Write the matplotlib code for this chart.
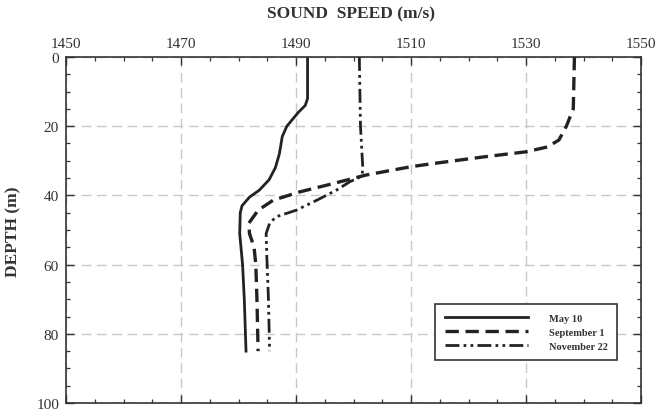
import matplotlib
matplotlib.use("Agg")
import matplotlib.pyplot as plt
from matplotlib.ticker import MultipleLocator

# sound speed profiles (depth in m, speed in m/s)
may_depth = [0, 12, 14, 16, 18, 20, 23, 28, 32, 35.5, 38.5, 40.5, 43, 45, 51, 60, 70, 85]
may_speed = [1492.0, 1492.0, 1491.6, 1490.4, 1489.4, 1488.4, 1487.6, 1487.1, 1486.4,
             1485.3, 1483.6, 1481.9, 1480.6, 1480.3, 1480.2, 1480.7, 1481.0, 1481.3]

sep_depth = [0, 15, 20, 24, 26, 27.4, 28.9, 30.8, 31.7, 34.1, 36.6, 39, 41.4, 44.3,
             48, 51, 55, 60, 70, 85]
sep_speed = [1538.4, 1538.2, 1537.0, 1535.7, 1533.7, 1530.0, 1522.5, 1513.8, 1510.0,
             1502.2, 1496.4, 1490.6, 1486.0, 1483.4, 1481.8, 1481.9, 1482.7, 1483.0,
             1483.2, 1483.4]

nov_depth = [0, 20, 32, 34, 35, 36, 38.4, 41.4, 44.3, 46.2, 48.1, 51, 57, 70, 85]
nov_speed = [1501.0, 1501.2, 1501.6, 1501.5, 1500.8, 1499.4, 1497.1, 1493.6, 1490.0,
             1486.5, 1485.4, 1484.8, 1484.9, 1485.2, 1485.4]

labels = ["May 10", "September 1", "November 22"]
x_ticks = [1450, 1470, 1490, 1510, 1530, 1550]
y_ticks = [0, 20, 40, 60, 80, 100]

plt.rcParams["font.family"] = ["Liberation Serif", "DejaVu Serif"]

fig = plt.figure(figsize=(6.62, 4.14), dpi=100)
ax = fig.add_axes([0.0997, 0.024, 0.8688, 0.836])

ink = "#222222"
ax.plot(may_speed, may_depth, color=ink, lw=2.0, label=labels[0])
ax.plot(sep_speed, sep_depth, color=ink, lw=2.4, dashes=(4, 2), label=labels[1])
ax.plot(nov_speed, nov_depth, color=ink, lw=2.0, dashes=(5, 1.5, 1, 1.5, 1, 1.5),
        label=labels[2])

ax.set_xlim(1450, 1550)
ax.set_ylim(100, 0)
ax.set_xticks(x_ticks)
ax.set_yticks(y_ticks)
ax.xaxis.set_minor_locator(MultipleLocator(5))
ax.yaxis.set_minor_locator(MultipleLocator(5))
ax.xaxis.tick_top()
ax.tick_params(which="both", direction="in", top=True, bottom=True, left=True, right=True,
               color="#333333", labelsize=11, labelcolor="#333333")
ax.tick_params(which="major", length=6, width=1.0, pad=5)
ax.tick_params(which="minor", length=3.2, width=0.9)
for s in ax.spines.values():
    s.set_linewidth(1.2)
    s.set_color("#333333")

ax.grid(True, which="major", color="#c8c8c8", ls=(0, (7, 4)), lw=1.0)

fig.text(351 / 662, 1 - 14 / 414, "SOUND  SPEED (m/s)", ha="center", va="center",
         fontsize=12.5, fontweight="bold", color="#333333")
fig.text(13 / 662, 0.44, "DEPTH (m)", rotation=90, ha="center", va="center",
         fontsize=12.5, fontweight="bold", color="#333333")

leg = ax.legend(loc="upper left", bbox_to_anchor=(0.642, 0.286), borderaxespad=0,
                prop={"size": 7.5, "weight": "bold"}, handlelength=8, handletextpad=2,
                labelspacing=0.45, borderpad=0.9, fancybox=False, framealpha=1,
                edgecolor="#333333")
leg.get_frame().set_linewidth(1.2)
for t in leg.get_texts():
    t.set_color("#333333")

fig.savefig("out.png", dpi=100)
